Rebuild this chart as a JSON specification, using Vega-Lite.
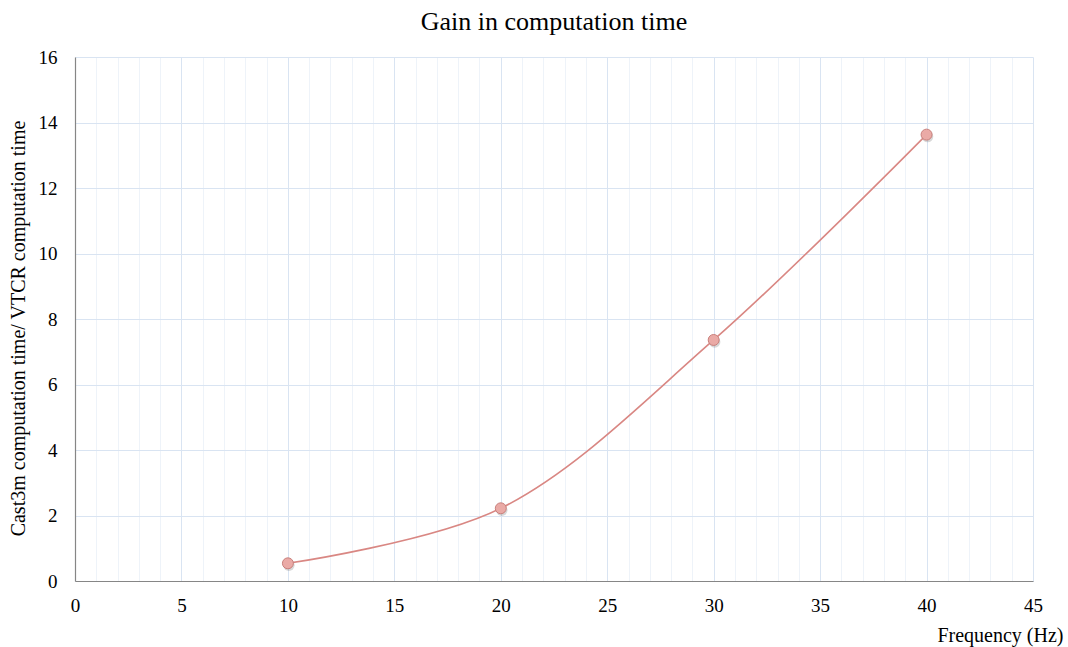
{
  "$schema": "https://vega.github.io/schema/vega-lite/v6.json",
  "autosize": {"type": "none"},
  "width": 958,
  "height": 524,
  "padding": {"left": 75, "top": 57, "right": 35, "bottom": 66},
  "background": "white",
  "title": {"text": "Gain in computation time", "font": "Liberation Serif", "fontSize": 26, "fontWeight": "normal", "color": "#000000", "anchor": "middle", "baseline": "bottom", "offset": 22, "dy": 35},
  "config": {
    "view": {"stroke": null},
    "axis": {"labelFont": "Liberation Serif", "labelFontSize": 19, "labelColor": "#000000", "titleFont": "Liberation Serif", "titleFontSize": 20, "titleFontWeight": "normal", "titleColor": "#000000", "domainColor": "#868686", "domainWidth": 1.2, "ticks": false}
  },
  "data": {"values": [
    {"f": 10, "g": 0.54},
    {"f": 20, "g": 2.22},
    {"f": 30, "g": 7.36},
    {"f": 40, "g": 13.63}
  ]},
  "encoding": {
    "x": {"field": "f", "type": "quantitative", "scale": {"domain": [0, 45], "nice": false},
      "axis": {"title": "Frequency (Hz)", "values": [0,1,2,3,4,5,6,7,8,9,10,11,12,13,14,15,16,17,18,19,20,21,22,23,24,25,26,27,28,29,30,31,32,33,34,35,36,37,38,39,40,41,42,43,44,45],
        "labelExpr": "datum.value % 5 === 0 ? datum.label : ''", "labelPadding": 15, "labelFlush": false, "labelOverlap": false,
        "gridColor": {"condition": {"test": "datum.value % 5 === 0", "value": "#d9e4f2"}, "value": "#eef3f9"},
        "titleX": 988, "titleY": 60, "titleAlign": "right", "titleAnchor": "end", "titleBaseline": "alphabetic"}},
    "y": {"field": "g", "type": "quantitative", "scale": {"domain": [0, 16], "nice": false},
      "axis": {"title": "Cast3m computation time/ VTCR computation time", "values": [0,2,4,6,8,10,12,14,16], "labelPadding": 18, "gridColor": "#d9e4f2", "labelFlush": false,
        "titleX": -57, "titleY": 271, "titleAngle": -90, "titleAlign": "center", "titleBaseline": "middle"}}
  },
  "layer": [
    {"mark": {"type": "line", "interpolate": "catmull-rom", "color": "#d98783", "strokeWidth": 1.6}},
    {"mark": {"type": "point", "filled": true, "size": 130, "color": "#7f7f7f", "opacity": 0.3, "xOffset": 1, "yOffset": 2}},
    {"mark": {"type": "point", "filled": true, "size": 120, "fill": "#eaaaa6", "stroke": "#c9807c", "strokeWidth": 1, "opacity": 1}}
  ]
}
